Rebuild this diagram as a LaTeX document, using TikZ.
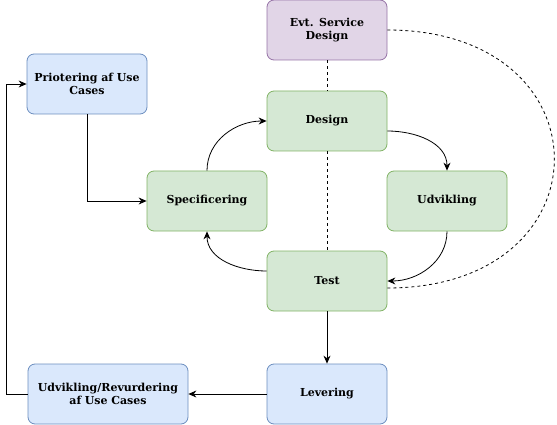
\documentclass[tikz,border=0pt]{standalone}
\usepackage{fontspec}
\setmainfont{DejaVu Serif}
\usepackage{tikz}
\usetikzlibrary{arrows.meta,positioning}

\definecolor{blueF}{HTML}{DAE8FC}
\definecolor{blueD}{HTML}{6C8EBF}
\definecolor{greenF}{HTML}{D5E8D4}
\definecolor{greenD}{HTML}{82B366}
\definecolor{purpF}{HTML}{E1D5E7}
\definecolor{purpD}{HTML}{9673A6}

\begin{document}
\begin{tikzpicture}[x=1pt,y=-1pt,
  box/.style={rounded corners=7pt,minimum width=120pt,minimum height=60pt,line width=0.8pt,
    align=center,font=\bfseries\fontsize{11}{13}\selectfont,text width=116pt,inner sep=0pt},
  bluebox/.style={box,fill=blueF,draw=blueD},
  greenbox/.style={box,fill=greenF,draw=greenD},
  purpbox/.style={box,fill=purpF,draw=purpD},
  pil/.style={-{Stealth[length=8pt,width=7pt]},line width=0.8pt},
  stip/.style={dashed,line width=0.8pt}]
\useasboundingbox (0,0) rectangle (557,425);
% boxes
\node[purpbox] (evt) at (327,30) {Evt. Service\\Design};
\node[greenbox] (design) at (327,121) {Design};
\node[bluebox] (prio) at (87,84) {Priotering af Use\\Cases};
\node[greenbox] (spec) at (207,201) {Specificering};
\node[greenbox] (udv) at (447,201) {Udvikling};
\node[greenbox] (test) at (327,281) {Test};
\node[bluebox] (lev) at (327,394) {Levering};
\node[bluebox,minimum width=160pt,text width=156pt] (revu) at (108,394) {Udvikling/Revurdering\\af Use Cases};
% dashed lines
\draw[stip] (evt.south) -- (design.north);
\draw[stip] (design.south) -- (test.north);
\draw[stip] (evt.east) .. controls (610,30) and (610,288) .. ([yshift=-7pt]test.east);
% arrows
\draw[pil] (prio.south) |- (spec.west);
\draw[pil] (spec.north) to[out=90,in=180] (design.west);
\draw[pil] ([yshift=-10pt]design.east) to[out=0,in=90] (udv.north);
\draw[pil] (udv.south) to[out=-90,in=0] (test.east);
\draw[pil] ([yshift=10pt]test.west) to[out=180,in=-90] (spec.south);
\draw[pil] (test.south) -- (lev.north);
\draw[pil] (lev.west) -- (revu.east);
\draw[pil] (revu.west) -- ++(-21,0) |- (prio.west);
\end{tikzpicture}
\end{document}
